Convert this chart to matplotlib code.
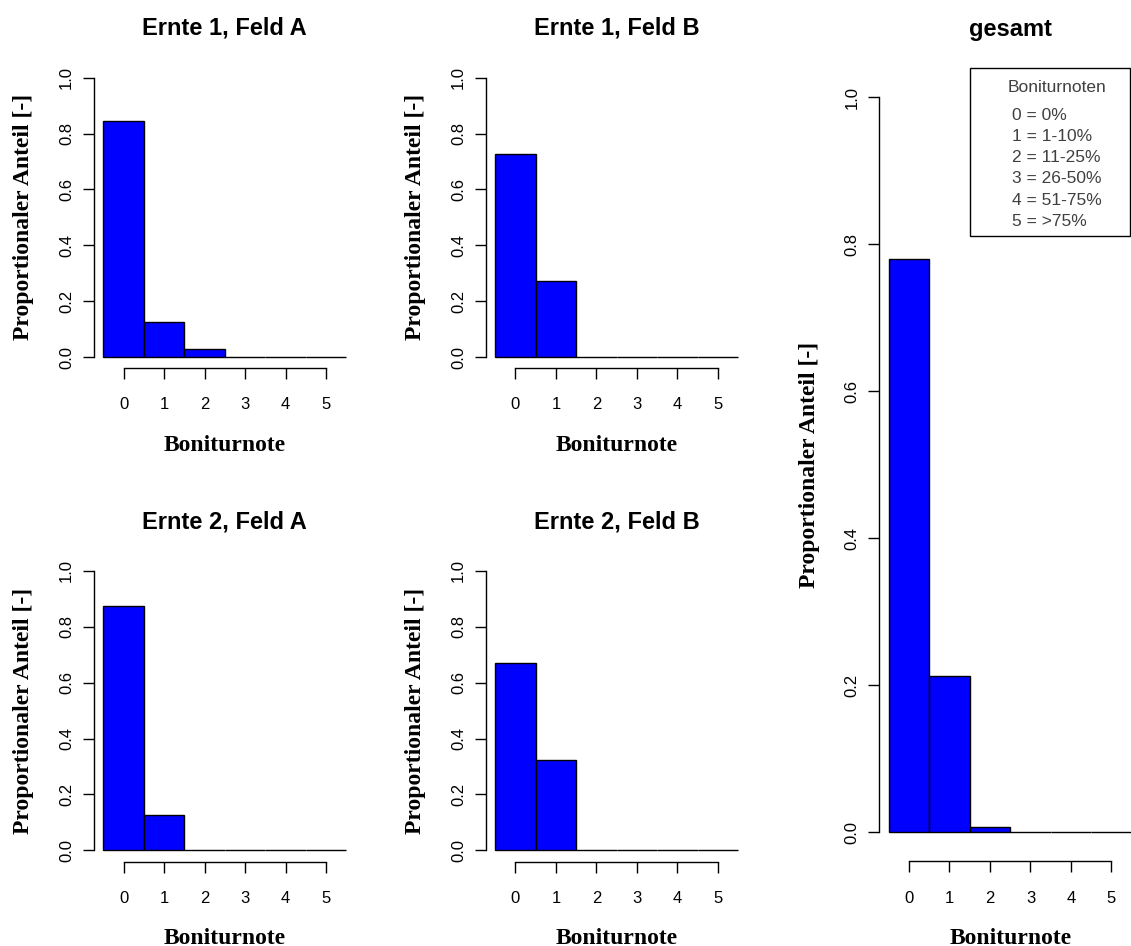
import matplotlib
matplotlib.use("Agg")
import matplotlib.pyplot as plt
from matplotlib.patches import Rectangle

# Boniturnoten 0..5, proportional share per field / harvest
categories = [0, 1, 2, 3, 4, 5]
ernte1_feld_a = [0.846, 0.126, 0.028, 0.0, 0.0, 0.0]
ernte1_feld_b = [0.727, 0.273, 0.0, 0.0, 0.0, 0.0]
ernte2_feld_a = [0.875, 0.125, 0.0, 0.0, 0.0, 0.0]
ernte2_feld_b = [0.672, 0.322, 0.0, 0.0, 0.0, 0.0]
gesamt = [0.780, 0.213, 0.007, 0.0, 0.0, 0.0]

titles = ["Ernte 1, Feld A", "Ernte 1, Feld B", "Ernte 2, Feld A", "Ernte 2, Feld B", "gesamt"]
yticks = [0.0, 0.2, 0.4, 0.6, 0.8, 1.0]
legend_title = "Boniturnoten"
legend_labels = ["0 = 0%", "1 = 1-10%", "2 = 11-25%", "3 = 26-50%", "4 = 51-75%", "5 = >75%"]

W, H = 1131, 946
SANS = "Liberation Sans"
SERIF = "Liberation Serif"

fig = plt.figure(figsize=(W / 100, H / 100), dpi=100)


def px_axes(left, top, right, bottom):
    return fig.add_axes([left / W, 1 - bottom / H, (right - left) / W, (bottom - top) / H])


def draw_panel(ax, values, title):
    n = len(categories)
    ax.bar(range(n), values, width=1.0, align="edge", color="#0000FF",
           edgecolor="black", linewidth=1.0)
    ax.set_xlim(-0.04 * n, n * 1.04)
    ax.set_ylim(-0.04, 1.04)

    ax.spines["top"].set_visible(False)
    ax.spines["right"].set_visible(False)
    ax.spines["left"].set_bounds(0, 1)
    ax.spines["bottom"].set_bounds(0.5, n - 0.5)
    for s in ("left", "bottom"):
        ax.spines[s].set_linewidth(1.0)

    ax.set_xticks([c + 0.5 for c in range(n)])
    ax.set_xticklabels([str(c) for c in categories], fontfamily=SANS, fontsize=12)
    ax.set_yticks(yticks)
    ax.set_yticklabels([f"{v:.1f}" for v in yticks], fontfamily=SANS, fontsize=12,
                       rotation=90, va="center")
    ax.tick_params(axis="x", direction="out", length=8, width=1.0, pad=13)
    ax.tick_params(axis="y", direction="out", length=8, width=1.0, pad=6)

    bb = ax.get_position()
    w_px = bb.width * W
    h_px = bb.height * H
    ax.text(0.5, 1 + 38 / h_px, title, transform=ax.transAxes, ha="center",
            va="center", fontfamily=SANS, fontweight="bold", fontsize=17)
    ax.text(0.5, -77 / h_px, "Boniturnote", transform=ax.transAxes, ha="center",
            va="center", fontfamily=SERIF, fontweight="bold", fontsize=17)
    ax.text(-70 / w_px, 0.5, "Proportionaler Anteil [-]", transform=ax.transAxes,
            ha="center", va="center", rotation=90, fontfamily=SERIF,
            fontweight="bold", fontsize=17)


panel_w = 262.4
ax1 = px_axes(93.6, 66.5, 93.6 + panel_w, 368.2)
ax2 = px_axes(485.5, 66.5, 485.5 + panel_w, 368.2)
ax3 = px_axes(93.6, 559.8, 93.6 + panel_w, 861.5)
ax4 = px_axes(485.5, 559.8, 485.5 + panel_w, 861.5)
ax5 = px_axes(879.0, 67.9, 879.0 + panel_w, 861.4)

for ax, vals, t in zip([ax1, ax2, ax3, ax4, ax5],
                       [ernte1_feld_a, ernte1_feld_b, ernte2_feld_a, ernte2_feld_b, gesamt],
                       titles):
    draw_panel(ax, vals, t)

# legend box (top right)
box_l, box_t, box_r, box_b = 970, 68, 1130, 236
fig.patches.append(Rectangle((box_l / W, 1 - box_b / H), (box_r - box_l) / W,
                             (box_b - box_t) / H, transform=fig.transFigure,
                             facecolor="white", edgecolor="black", linewidth=1.0))
legend_col = "#404040"
fig.text(1057 / W, 1 - 87 / H, legend_title, ha="center", va="center",
         fontfamily=SANS, fontsize=12.5, color=legend_col)
for i, lab in enumerate(legend_labels):
    fig.text(1012 / W, 1 - (115 + i * 21.3) / H, lab, ha="left", va="center",
             fontfamily=SANS, fontsize=12.5, color=legend_col)

fig.savefig("out.png", dpi=100)
